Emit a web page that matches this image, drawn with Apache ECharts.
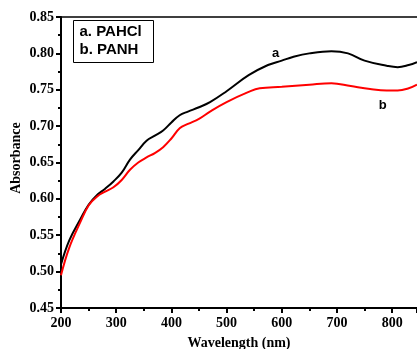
<!DOCTYPE html>
<html>
<head>
<meta charset="utf-8">
<script src="https://cdn.jsdelivr.net/npm/echarts@6/dist/echarts.min.js"></script>
<style>
html,body{margin:0;padding:0;background:#fff;}
#chart{width:417px;height:349px;}
</style>
</head>
<body>
<div id="chart"></div>
<script>
var wavelengthA = [200,215,235,250,265,280,295,310,325,340,355,370,385,400,415,430,450,470,500,540,575,600,620,650,690,720,750,790,810,830,845];
var absorbA = [0.510,0.543,0.572,0.592,0.605,0.614,0.624,0.636,0.654,0.667,0.680,0.687,0.694,0.705,0.715,0.720,0.726,0.733,0.748,0.770,0.784,0.790,0.795,0.800,0.803,0.800,0.790,0.783,0.781,0.784,0.788];
var wavelengthB = [200,215,235,250,265,280,295,310,325,340,355,370,385,400,415,430,450,470,500,540,560,600,650,690,725,760,790,810,830,845];
var absorbB = [0.495,0.533,0.568,0.591,0.603,0.610,0.616,0.626,0.640,0.650,0.657,0.663,0.671,0.683,0.697,0.703,0.710,0.720,0.733,0.747,0.752,0.754,0.757,0.759,0.755,0.751,0.749,0.749,0.752,0.757];
var legendLines = ['a. PAHCl', 'b. PANH'];
var curveLabels = ['a', 'b'];
var labelPosA = [589, 0.800];
var labelPosB = [783, 0.729];

function pairs(xs, ys){ return xs.map(function(x,i){ return [x, ys[i]]; }); }

var serifBold = {fontFamily:'"Liberation Serif","Times New Roman",serif', fontWeight:'bold', color:'#000'};
var chart = echarts.init(document.getElementById('chart'), null, {renderer:'canvas'});
chart.setOption({
  animation:false,
  backgroundColor:'#fff',
  grid:{left:61, right:0, top:17, bottom:41, containLabel:false, outerBoundsMode:'none'},
  xAxis:[{
    type:'value', min:200, max:845, interval:100,
    name:'Wavelength (nm)', nameLocation:'middle', nameGap:28, nameMoveOverlap:false,
    nameTextStyle:Object.assign({fontSize:14}, serifBold),
    axisLine:{show:true, onZero:false, lineStyle:{color:'#000', width:2}},
    axisTick:{show:true, inside:false, length:5, lineStyle:{color:'#000', width:2}},
    minorTick:{show:true, splitNumber:2, length:3, lineStyle:{color:'#000', width:2}},
    axisLabel:Object.assign({fontSize:14, margin:8, showMaxLabel:false}, serifBold),
    splitLine:{show:false}
  },{
    type:'value', position:'top', min:200, max:845,
    axisLine:{show:true, onZero:false, lineStyle:{color:'#000', width:1.5}},
    axisTick:{show:false}, axisLabel:{show:false}, splitLine:{show:false}
  }],
  yAxis:{
    type:'value', min:0.45, max:0.85, interval:0.05,
    name:'Absorbance', nameLocation:'middle', nameGap:38, nameMoveOverlap:false,
    nameTextStyle:Object.assign({fontSize:14, padding:[0,0,0,9]}, serifBold),
    axisLine:{show:true, onZero:false, lineStyle:{color:'#000', width:2}},
    axisTick:{show:true, inside:false, length:5, lineStyle:{color:'#000', width:2}},
    minorTick:{show:true, splitNumber:2, length:3, lineStyle:{color:'#000', width:2}},
    axisLabel:Object.assign({fontSize:14, margin:7, formatter:function(v){return v.toFixed(2);}}, serifBold),
    splitLine:{show:false}
  },
  series:[{
    type:'line', name:'a', data:pairs(wavelengthA, absorbA), smooth:0.4, showSymbol:false,
    lineStyle:{color:'#000', width:2}, itemStyle:{color:'#000'},
    markPoint:{symbol:'circle', symbolSize:0, silent:true,
      label:{show:true, formatter:curveLabels[0], fontFamily:'Arial,"Liberation Sans",sans-serif', fontWeight:'bold', fontSize:13, color:'#000'},
      data:[{coord:labelPosA}]}
  },{
    type:'line', name:'b', data:pairs(wavelengthB, absorbB), smooth:0.4, showSymbol:false,
    lineStyle:{color:'#ff0000', width:2}, itemStyle:{color:'#ff0000'},
    markPoint:{symbol:'circle', symbolSize:0, silent:true,
      label:{show:true, formatter:curveLabels[1], fontFamily:'Arial,"Liberation Sans",sans-serif', fontWeight:'bold', fontSize:13, color:'#000'},
      data:[{coord:labelPosB}]}
  }],
  graphic:[{
    type:'group', left:73, top:20,
    children:[{
      type:'rect', shape:{x:0, y:0, width:80, height:42},
      style:{fill:'#fff', stroke:'#000', lineWidth:1}
    },{
      type:'text', x:6, y:4,
      style:{text:legendLines[0], font:'bold 15px Arial, "Liberation Sans", sans-serif', fill:'#000'}
    },{
      type:'text', x:6, y:22,
      style:{text:legendLines[1], font:'bold 15px Arial, "Liberation Sans", sans-serif', fill:'#000'}
    }]
  }]
});
</script>
</body>
</html>
